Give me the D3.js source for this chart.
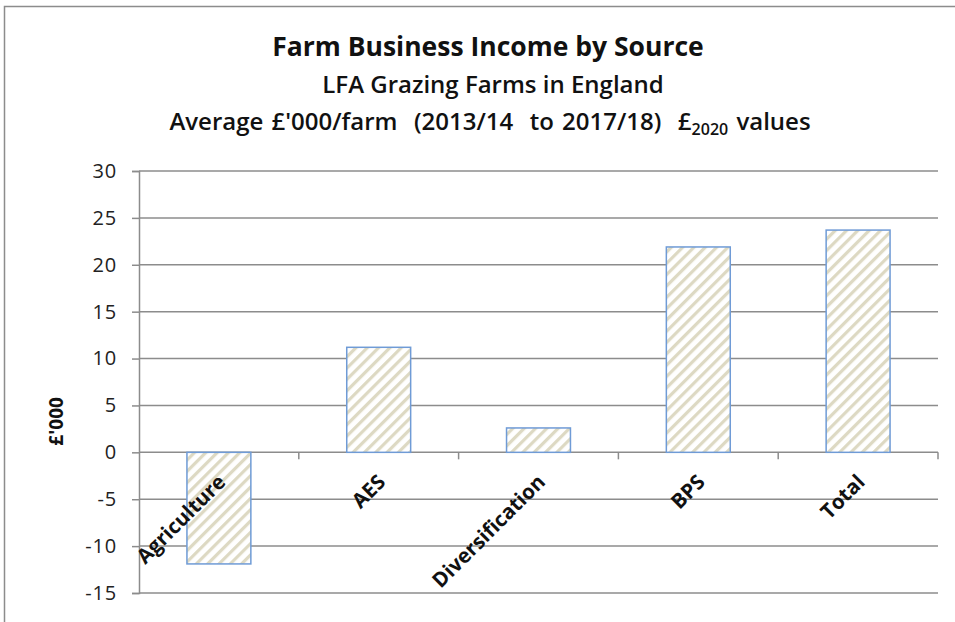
<!DOCTYPE html>
<html><head><meta charset="utf-8">
<script src="https://cdn.jsdelivr.net/npm/d3@7"></script>
<style>body{margin:0;background:#fff}svg{display:block}text{font-family:"Open Sans",sans-serif;white-space:pre}</style>
</head><body><svg id="c" width="955" height="622"></svg>
<script>
const categories = ["Agriculture","AES","Diversification","BPS","Total"];
const values = [-11.9, 11.2, 2.6, 21.9, 23.7];
const yTicks = [-15,-10,-5,0,5,10,15,20,25,30];
const titleLines = ["Farm Business Income by Source","LFA Grazing Farms in England"];
const yTitle = "£'000";

(function(){
const svg = d3.select("#c");
const pLeft = 139, pRight = 938, pTop = 171, pBottom = 593;
const y = d3.scaleLinear().domain([-15,30]).range([pBottom, pTop]);
const x = d3.scaleBand().domain(categories).range([pLeft, pRight]).padding(0);

// frame
svg.append("rect").attr("x",4.5).attr("y",6.5).attr("width",1000).attr("height",1000)
  .attr("fill","none").attr("stroke","#8c8c8c").attr("stroke-width",1.5);

// pattern
const defs = svg.append("defs");
const pat = defs.append("pattern").attr("id","hatch").attr("patternUnits","userSpaceOnUse")
  .attr("width",8).attr("height",8).attr("patternTransform","rotate(45)");
pat.append("rect").attr("width",8).attr("height",8).attr("fill","#fff");
pat.append("rect").attr("x",0).attr("width",3.2).attr("height",8).attr("fill","#ddd9c3");

// gridlines
svg.append("g").selectAll("line").data(yTicks).join("line")
  .attr("x1",pLeft).attr("x2",pRight).attr("y1",d=>y(d)).attr("y2",d=>y(d))
  .attr("stroke","#8c8c8c").attr("stroke-width",1.5);

// y axis
const ya = svg.append("g").attr("transform",`translate(${pLeft},0)`)
  .call(d3.axisLeft(y).tickValues(yTicks).tickSize(7).tickPadding(15).tickFormat(d=>String(d)));
ya.select(".domain").attr("stroke","#8c8c8c").attr("stroke-width",1.5);
ya.selectAll(".tick line").attr("stroke","#8c8c8c").attr("stroke-width",1.5);
ya.selectAll(".tick text").attr("font-size",20).attr("letter-spacing",0.8).attr("fill","#222").attr("font-family","'Open Sans',sans-serif");

// category ticks on zero line
const bounds = categories.map(c=>x(c)).concat([pRight]);
svg.append("g").selectAll("line").data(bounds.slice(1)).join("line")
  .attr("x1",d=>d).attr("x2",d=>d).attr("y1",y(0)).attr("y2",y(0)+7)
  .attr("stroke","#8c8c8c").attr("stroke-width",1.5);

// bars
const bw = x.bandwidth()*0.4;
svg.append("g").selectAll("rect").data(values).join("rect")
  .attr("x",(d,i)=>x(categories[i])+x.bandwidth()/2-bw/2)
  .attr("width",bw)
  .attr("y",d=>y(Math.max(0,d)))
  .attr("height",d=>Math.abs(y(d)-y(0)))
  .attr("fill","url(#hatch)").attr("stroke","#6f9bd6").attr("stroke-width",1.5);

// category labels
svg.append("g").selectAll("text").data(categories).join("text")
  .attr("transform",d=>`translate(${x(d)+x.bandwidth()/2+8},${y(0)+31}) rotate(-45)`)
  .attr("text-anchor","end").attr("font-size",20.5).attr("font-weight","bold").attr("fill","#111")
  .text(d=>d);

// titles
const cx = 490;
svg.append("text").attr("x",cx-2).attr("y",56).attr("text-anchor","middle")
  .attr("font-size",26.5).attr("font-weight","bold").attr("fill","#111").text(titleLines[0]);
svg.append("text").attr("x",cx+3).attr("y",93).attr("text-anchor","middle")
  .attr("font-size",24).attr("font-weight","600").attr("fill","#111").text(titleLines[1]);
const t3 = svg.append("text").attr("x",cx).attr("y",130).attr("text-anchor","middle")
  .attr("font-size",24).attr("font-weight","600").attr("word-spacing",2).attr("fill","#111");
t3.append("tspan").text("Average £'000/farm  (2013/14  to 2017/18)  £");
t3.append("tspan").attr("font-size",16).attr("dy",5).text("2020");
t3.append("tspan").attr("dy",-5).text(" values");

// y title
svg.append("text").attr("transform",`translate(58,${y(3.3)}) rotate(-90)`)
  .attr("text-anchor","middle").attr("dominant-baseline","middle").attr("font-size",19).attr("font-weight","bold").attr("fill","#111").text(yTitle);
})();
</script></body></html>
